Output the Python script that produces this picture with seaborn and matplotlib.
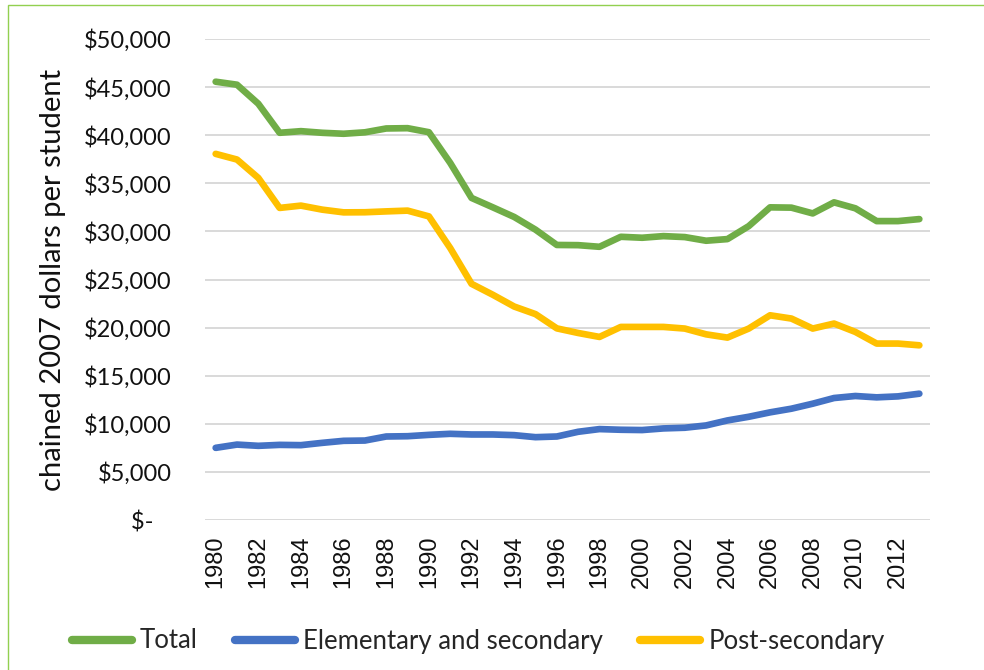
import matplotlib
matplotlib.use("Agg")
import matplotlib.pyplot as plt
import matplotlib.patches as mpatches
import seaborn as sns
import pandas as pd

years = list(range(1980, 2014))
total = [45560, 45250, 43270, 40250, 40420, 40250, 40150, 40300, 40700, 40730,
         40310, 37120, 33480, 32500, 31500, 30180, 28590, 28570, 28400, 29440,
         29340, 29510, 29410, 29030, 29200, 30550, 32500, 32470, 31870, 33020,
         32400, 31070, 31070, 31280]
elementary = [7500, 7840, 7710, 7810, 7780, 8020, 8230, 8260, 8680, 8710,
              8850, 8960, 8890, 8890, 8820, 8610, 8680, 9170, 9450, 9380,
              9350, 9520, 9590, 9830, 10350, 10730, 11190, 11570, 12090, 12680,
              12890, 12750, 12850, 13130]
postsecondary = [38060, 37470, 35560, 32440, 32680, 32260, 31980, 31990, 32080, 32160,
                 31560, 28270, 24550, 23410, 22190, 21400, 19920, 19440, 19030, 20070,
                 20070, 20070, 19900, 19300, 18960, 19900, 21280, 20940, 19900, 20420,
                 19550, 18340, 18340, 18160]
series_names = ["Total", "Elementary and secondary", "Post-secondary"]
colors = ["#70AD47", "#4472C4", "#FFC000"]
y_ticks = list(range(0, 50001, 5000))
x_ticks = list(range(1980, 2013, 2))

df = pd.DataFrame({
    "year": years * 3,
    "value": total + elementary + postsecondary,
    "series": [series_names[0]] * len(years) + [series_names[1]] * len(years) + [series_names[2]] * len(years),
})

sns.set_theme(style="white")
plt.rcParams["font.family"] = ["Lato", "DejaVu Sans"]

W, H = 984, 670
fig = plt.figure(figsize=(W / 100, H / 100), dpi=100)
ax = fig.add_axes([205 / W, 1 - 520 / H, (930 - 205) / W, (520 - 39) / H])

sns.lineplot(data=df, x="year", y="value", hue="series", hue_order=series_names,
             palette=colors, linewidth=4.8, ax=ax, legend=False,
             solid_capstyle="round", solid_joinstyle="round")

ax.set_xlim(1979.5, 2013.5)
ax.set_ylim(0, 50000)
ax.set_yticks(y_ticks)
ax.set_yticklabels(["$-   " if v == 0 else f"${v:,}" for v in y_ticks], fontsize=17, color="#111111")
ax.set_xticks(x_ticks)
ax.set_xticklabels([str(v) for v in x_ticks], rotation=90, color="#111111")
for lbl in ax.get_xticklabels():
    lbl.set_fontfamily(["Liberation Sans", "DejaVu Sans"])
    lbl.set_fontsize(17)
ax.tick_params(axis="y", length=0, pad=24)
ax.tick_params(axis="x", length=0, pad=11)
ax.grid(axis="y", color="#D9D9D9", linewidth=1.4)
ax.grid(axis="x", visible=False)
ax.set_axisbelow(True)
for s in ax.spines.values():
    s.set_visible(False)
ax.set_xlabel("")
ax.set_ylabel("chained 2007 dollars per student", fontsize=21, labelpad=13, color="#111111")

handles = [plt.Line2D([0], [0], color=c, linewidth=6, solid_capstyle="round") for c in colors]
fig.legend(handles, series_names, loc="center", bbox_to_anchor=(478 / W, 1 - 641 / H),
           ncol=3, frameon=False, fontsize=18.5, handlelength=2.35, handletextpad=0.3,
           columnspacing=1.45)

border = mpatches.Rectangle((8 / W, -0.05), 1.1, 1 - 5 / H + 0.05, transform=fig.transFigure,
                            fill=False, edgecolor="#92D050", linewidth=1.0, clip_on=False)
fig.patches.append(border)

fig.savefig("out.png", dpi=100)
